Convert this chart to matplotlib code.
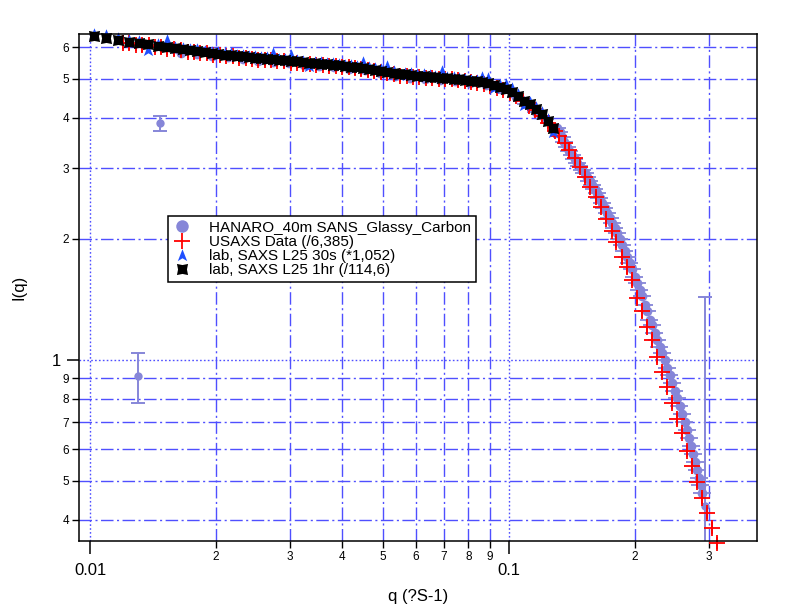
import matplotlib
matplotlib.use("Agg")
import matplotlib.pyplot as plt
from matplotlib.ticker import LogLocator, FuncFormatter
from matplotlib.lines import Line2D
import numpy as np

plt.rcParams['font.family'] = ['Liberation Sans', 'DejaVu Sans']

# ---- HANARO 40m SANS (purple circles, horizontal q-resolution bars)
sans_q = [0.0165, 0.0180, 0.0196, 0.0213, 0.0232, 0.0252, 0.0274, 0.0298, 0.0324, 0.0352,
          0.0383, 0.0416, 0.0452, 0.0491, 0.0534, 0.0580, 0.0630, 0.0685, 0.0745, 0.0809,
          0.0880, 0.0956, 0.1039, 0.1100, 0.1160, 0.1220,
          0.1302, 0.1320, 0.1338, 0.1356, 0.1375, 0.1394, 0.1414, 0.1433, 0.1453, 0.1473,
          0.1494, 0.1515, 0.1536, 0.1557, 0.1578, 0.1600, 0.1622, 0.1644, 0.1667, 0.1690,
          0.1714, 0.1738, 0.1762, 0.1786, 0.1811, 0.1836, 0.1861, 0.1887, 0.1913, 0.1939,
          0.1966, 0.1993, 0.2021, 0.2049, 0.2077, 0.2106, 0.2136, 0.2165, 0.2195, 0.2225,
          0.2256, 0.2287, 0.2318, 0.2350, 0.2383, 0.2416, 0.2449, 0.2483, 0.2518, 0.2553,
          0.2588, 0.2624, 0.2660, 0.2690, 0.2720, 0.2750, 0.2780, 0.2811, 0.2842, 0.2865,
          0.2889]
sans_I = [5.80, 5.78, 5.71, 5.66, 5.60, 5.54, 5.52, 5.47, 5.43, 5.39,
          5.35, 5.30, 5.25, 5.17, 5.10, 5.04, 5.01, 4.97, 4.93, 4.88,
          4.83, 4.71, 4.52, 4.34, 4.15, 3.97,
          3.78, 3.68, 3.59, 3.49, 3.39, 3.31, 3.24, 3.16, 3.09, 3.03,
          2.97, 2.91, 2.85, 2.79, 2.73, 2.66, 2.60, 2.53, 2.46, 2.39,
          2.32, 2.26, 2.19, 2.13, 2.07, 2.00, 1.93, 1.87, 1.80, 1.74,
          1.68, 1.61, 1.55, 1.49, 1.44, 1.37, 1.32, 1.26, 1.22, 1.17,
          1.12, 1.08, 1.04, 0.997, 0.955, 0.915, 0.876, 0.839, 0.804, 0.768,
          0.734, 0.701, 0.670, 0.640, 0.611, 0.583, 0.557, 0.532, 0.509, 0.488,
          0.467]
sans_dq = 0.05  # relative q resolution

# SANS points drawn with intensity error bars
sans_eq = [0.01302, 0.01469, 0.2936]
sans_eI = [0.913, 3.89, 0.433]
sans_elo = [0.131, 0.18, 0.40]
sans_ehi = [0.128, 0.16, 1.00]

# ---- USAXS (/6.385)
usaxs_q = [0.0120, 0.0124, 0.0129, 0.0133, 0.0138, 0.0143, 0.0148, 0.0153, 0.0159, 0.0165,
           0.0171, 0.0177, 0.0183, 0.0190, 0.0197, 0.0204, 0.0211, 0.0219, 0.0227, 0.0235,
           0.0243, 0.0252, 0.0261, 0.0271, 0.0280, 0.0290, 0.0301, 0.0312, 0.0323, 0.0335,
           0.0347, 0.0359, 0.0372, 0.0386, 0.0400, 0.0414, 0.0429, 0.0444, 0.0460, 0.0477,
           0.0494, 0.0512, 0.0531, 0.0550, 0.0570, 0.0590, 0.0611, 0.0633, 0.0656, 0.0680,
           0.0704, 0.0730, 0.0756, 0.0783, 0.0811, 0.0840, 0.0871, 0.0902, 0.0935, 0.0968,
           0.1003, 0.1039, 0.1077, 0.1116, 0.1156, 0.1198, 0.1241, 0.1286,
           0.1316, 0.1360, 0.1390, 0.1437, 0.1477, 0.1519, 0.1561, 0.1613, 0.1658, 0.1704,
           0.1762, 0.1801, 0.1861, 0.1913, 0.1966, 0.2021, 0.2077, 0.2136, 0.2195, 0.2256,
           0.2318, 0.2383, 0.2449, 0.2518, 0.2588, 0.2660, 0.2734, 0.2810, 0.2889, 0.2969,
           0.3052, 0.3137]
usaxs_I = [6.16, 6.13, 6.09, 6.06, 6.06, 6.02, 5.99, 5.95, 5.92, 5.89,
           5.85, 5.82, 5.80, 5.79, 5.75, 5.72, 5.70, 5.69, 5.65, 5.64,
           5.62, 5.59, 5.57, 5.56, 5.54, 5.53, 5.49, 5.48, 5.46, 5.45,
           5.43, 5.42, 5.40, 5.39, 5.37, 5.34, 5.31, 5.28, 5.25, 5.22,
           5.19, 5.16, 5.13, 5.10, 5.09, 5.07, 5.06, 5.04, 5.03, 5.01,
           5.00, 4.99, 4.96, 4.93, 4.91, 4.89, 4.86, 4.80, 4.75, 4.70,
           4.61, 4.54, 4.41, 4.28, 4.18, 4.05, 3.89, 3.71,
           3.61, 3.47, 3.33, 3.18, 3.02, 2.85, 2.69, 2.54, 2.40, 2.24,
           2.09, 1.97, 1.80, 1.70, 1.58, 1.43, 1.32, 1.21, 1.12, 1.02,
           0.934, 0.857, 0.782, 0.713, 0.658, 0.594, 0.545, 0.497, 0.453, 0.416,
           0.382, 0.350]
usaxs_err = 0.035  # relative error

# ---- lab SAXS L25 (30s *1.052 and 1hr /114.6), same q grid
lab_q = [0.01022, 0.01092, 0.01166, 0.01239, 0.01309, 0.01375, 0.01453, 0.01527, 0.01595, 0.01667,
         0.01732, 0.01800, 0.01882, 0.01955, 0.02021, 0.02100,
         0.0217, 0.0224, 0.0232, 0.0240, 0.0248, 0.0256, 0.0265, 0.0274, 0.0283, 0.0292,
         0.0302, 0.0312, 0.0323, 0.0333, 0.0345, 0.0356, 0.0368, 0.0381, 0.0393, 0.0407,
         0.0420, 0.0434, 0.0449, 0.0464, 0.0480, 0.0496, 0.0512, 0.0530, 0.0547, 0.0566,
         0.0585, 0.0604, 0.0625, 0.0646, 0.0667, 0.0690, 0.0713, 0.0737, 0.0761, 0.0787,
         0.0813, 0.0840, 0.0862, 0.0891, 0.0921, 0.0951, 0.0983, 0.1016, 0.1050, 0.1085,
         0.1121, 0.1159, 0.1198, 0.1237, 0.1270]
lab30s_I = [6.48, 6.42, 6.33, 6.24, 6.20, 5.90, 6.10, 6.25, 6.02, 5.98,
            5.95, 5.92, 5.88, 5.85, 5.82, 5.79,
            5.80, 5.74, 5.73, 5.71, 5.69, 5.67, 5.66, 5.80, 5.62, 5.60,
            5.72, 5.57, 5.55, 5.40, 5.52, 5.50, 5.49, 5.47, 5.46, 5.43,
            5.41, 5.40, 5.52, 5.34, 5.31, 5.28, 5.38, 5.22, 5.12, 5.17,
            5.16, 5.14, 5.13, 5.11, 5.10, 5.22, 5.07, 5.05, 5.04, 5.01,
            4.98, 4.97, 5.06, 5.02, 4.74, 4.82, 4.86, 4.74, 4.58, 4.30,
            4.37, 4.25, 4.13, 3.97, 3.68]
lab1hr_I = [6.40, 6.32, 6.25, 6.18, 6.15, 6.11, 6.04, 6.01, 5.97, 5.94,
            5.90, 5.87, 5.84, 5.80, 5.77, 5.75,
            5.74, 5.70, 5.69, 5.67, 5.65, 5.64, 5.62, 5.61, 5.57, 5.56,
            5.54, 5.53, 5.51, 5.49, 5.48, 5.46, 5.45, 5.43, 5.42, 5.39,
            5.37, 5.36, 5.33, 5.30, 5.27, 5.24, 5.21, 5.18, 5.15, 5.13,
            5.12, 5.10, 5.09, 5.07, 5.06, 5.04, 5.03, 5.01, 5.00, 4.97,
            4.94, 4.93, 4.91, 4.89, 4.83, 4.78, 4.72, 4.64, 4.54, 4.41,
            4.33, 4.21, 4.09, 3.93, 3.78]

labels = ["HANARO_40m SANS_Glassy_Carbon", "USAXS Data (/6,385)",
          "lab, SAXS L25 30s (*1,052)", "lab, SAXS L25 1hr (/114,6)"]

purple = '#8686d8'
red = '#ff0000'
blue = '#1f4fff'
gridc = '#4f4fff'

# marker shapes (Igor-like)
bowtie = [(-1, -1), (0, -0.8), (1, -1), (0.8, 0), (1, 1), (0, 0.8), (-1, 1), (-0.8, 0), (-1, -1)]
arrow = [(0, 1), (0.75, -0.9), (0, -0.45), (-0.75, -0.9), (0, 1)]

fig = plt.figure(figsize=(7.91, 6.09), dpi=100)
ax = fig.add_axes([0.0999, 0.1117, 0.8571, 0.8325])
ax.set_xscale('log')
ax.set_yscale('log')

sq = np.array(sans_q)
si = np.array(sans_I)
ax.errorbar(sq, si, xerr=sq * sans_dq, fmt='none', ecolor=purple, elinewidth=1.3,
            capsize=0, zorder=2)
ax.plot(sq, si, 'o', color=purple, ms=7, mec='none', zorder=2)
ax.errorbar(sans_eq, sans_eI, yerr=[sans_elo, sans_ehi], fmt='o', color=purple, ms=6,
            mec='none', ecolor=purple, elinewidth=1.4, capsize=5, capthick=1.4, zorder=2)

uq = np.array(usaxs_q)
ui = np.array(usaxs_I)
ax.errorbar(uq, ui, yerr=ui * usaxs_err, fmt='none', ecolor=red, elinewidth=1.3,
            capsize=0, zorder=3, clip_on=False)
ax.plot(uq, ui, '+', color=red, ms=11, mew=1.3, zorder=3, clip_on=False)

ax.plot(lab_q, lab30s_I, ls='none', marker=arrow, color=blue, ms=9, mec='none', zorder=4,
        clip_on=False)
ax.plot(lab_q, lab1hr_I, ls='none', marker=bowtie, color='black', ms=8, mec='none', zorder=5,
        clip_on=False)

ax.set_xlim(0.009413, 0.3906)
ax.set_ylim(0.3546, 6.47)

# ticks
ax.xaxis.set_major_locator(LogLocator(base=10, subs=(1.0,)))
ax.xaxis.set_minor_locator(LogLocator(base=10, subs=np.arange(2, 10), numticks=30))
ax.yaxis.set_major_locator(LogLocator(base=10, subs=(1.0,)))
ax.yaxis.set_minor_locator(LogLocator(base=10, subs=np.arange(2, 10), numticks=30))


def major_fmt(v, pos):
    if v >= 1:
        return '%d' % round(v)
    return ('%g' % v)


def minor_fmt(v, pos):
    e = np.floor(np.log10(v) + 1e-9)
    return '%d' % round(v / 10 ** e)


ax.xaxis.set_major_formatter(FuncFormatter(major_fmt))
ax.yaxis.set_major_formatter(FuncFormatter(major_fmt))
ax.xaxis.set_minor_formatter(FuncFormatter(minor_fmt))
ax.yaxis.set_minor_formatter(FuncFormatter(minor_fmt))

ax.tick_params(which='major', direction='out', length=9, width=1.1, labelsize=12, pad=4)
ax.tick_params(which='minor', direction='out', length=5, width=1.0, labelsize=8.5, pad=2)
ax.tick_params(axis='x', which='major', pad=7)

ax.grid(which='major', color=gridc, lw=1.0, ls=(0, (1.2, 1.6)))
ax.grid(which='minor', color=gridc, lw=1.0, ls=(0, (9, 2.5, 1.5, 2.5)))
ax.set_axisbelow(True)

for s in ax.spines.values():
    s.set_linewidth(1.1)
    s.set_zorder(6)

ax.set_xlabel('q (?S-1)', fontsize=12, labelpad=8)
ax.set_ylabel('I(q)', fontsize=12, labelpad=18)

handles = [
    Line2D([], [], ls='none', marker='o', color=purple, ms=9, mec='none'),
    Line2D([], [], ls='none', marker='+', color=red, ms=11, mew=1.3),
    Line2D([], [], ls='none', marker=arrow, color=blue, ms=9, mec='none'),
    Line2D([], [], ls='none', marker=bowtie, color='black', ms=8, mec='none'),
]
leg = ax.legend(handles, labels, loc='upper left', bbox_to_anchor=(0.131, 0.641),
                borderaxespad=0, fontsize=11.0, frameon=True, fancybox=False,
                edgecolor='black', framealpha=1, handlelength=1.2, handletextpad=1.2,
                labelspacing=0.02, borderpad=0.3)
leg.get_frame().set_linewidth(1.1)
leg.set_zorder(7)

fig.savefig('out.png', dpi=100)
